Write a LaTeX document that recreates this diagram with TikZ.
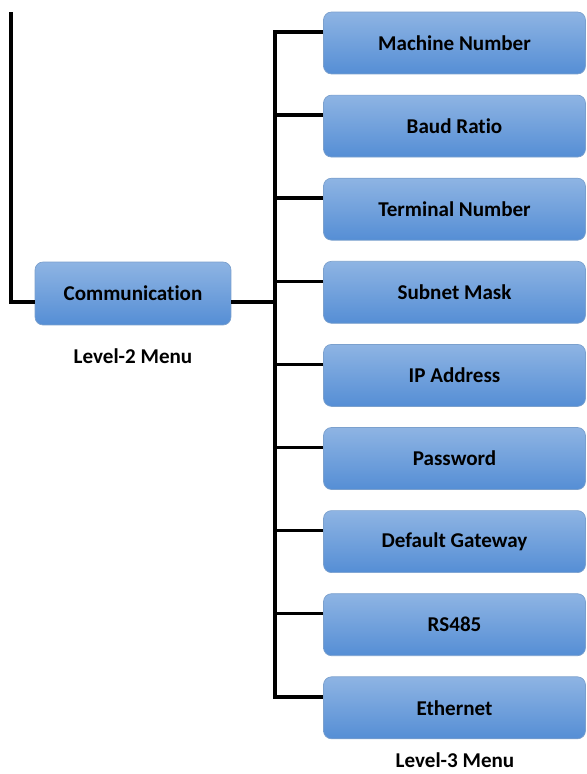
\documentclass[tikz,border=0pt]{standalone}
\usepackage{fontspec}
\setmainfont{Carlito}[Ligatures=NoCommon]
\usepackage{xcolor}
\usetikzlibrary{positioning}

\definecolor{boxtop}{HTML}{8EB4E3}
\definecolor{boxbot}{HTML}{558ED5}
\definecolor{boxline}{HTML}{7BA0CD}

\tikzset{
  menubox/.style={draw=boxline, rounded corners=0.16cm, top color=boxtop, bottom color=boxbot,
    minimum width=5.24cm, minimum height=1.24cm, font=\fontsize{12}{14}\selectfont\bfseries, inner sep=0pt},
  wire/.style={line width=2pt, line join=miter},
  caption/.style={font=\fontsize{12}{14}\selectfont\bfseries}
}

\begin{document}
\begin{tikzpicture}[x=0.02cm, y=-0.02cm]
  \useasboundingbox (0,0) rectangle (586,774);

  % level-2
  \node[menubox, minimum width=3.92cm, minimum height=1.26cm] (comm) at (133,293.5) {Communication};
  \node[caption] (lvltwo) at (133,356) {Level-2 Menu};

  % level-3 boxes
  \foreach \name [count=\i] in {Machine Number, Baud Ratio, Terminal Number, Subnet Mask, IP Address,
      Password, Default Gateway, RS485, Ethernet}
    \node[menubox] (m\i) at (454.5, {43+83.1*(\i-1)}) {\name};
  \node[caption] (lvlthree) at (455,760) {Level-3 Menu};

  % connectors
  \draw[wire] ([yshift=0.22cm]m1.west) -- ++(-48,0) |- ([yshift=0.22cm]m9.west);
  \foreach \i in {2,...,8}
    \draw[wire] ([yshift=0.22cm]m\i.west) -- ++(-48,0);
  \draw[wire] ([yshift=-0.17cm]comm.east) -- ++(44,0);
  \coordinate (up) at (11,12);
  \draw[wire] ([yshift=-0.17cm]comm.west) -| (up);
\end{tikzpicture}
\end{document}
